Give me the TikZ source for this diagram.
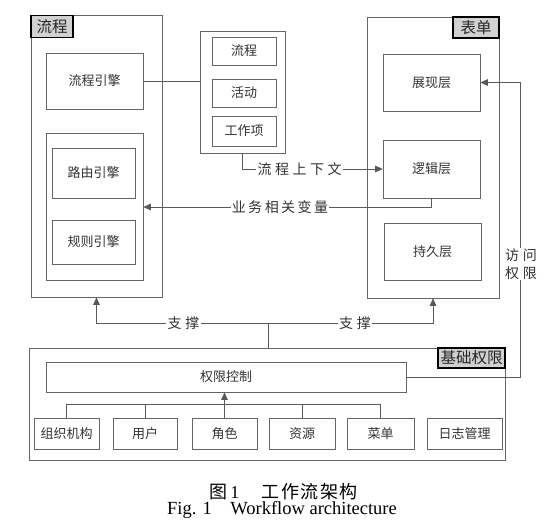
\documentclass[tikz,border=0pt]{standalone}
\usepackage{fontspec}
\setmainfont{Liberation Serif}
\newfontfamily\cjk{Noto Sans CJK SC}
\usetikzlibrary{arrows.meta}
\newcommand\gp[1]{\kern#1pt}
\begin{document}
\begin{tikzpicture}[x=1pt,y=-1pt,
  line col/.style={draw=black!60},
  box/.style={line col,line width=0.6pt,inner sep=0pt,rectangle,text=black!80,font=\cjk\fontsize{13}{15}\selectfont},
  lbl/.style={draw=black,line width=1.4pt,fill=black!18,inner sep=0pt,text=black!85,font=\cjk\fontsize{15.5}{17}\selectfont},
  conn/.style={black!65,line width=0.6pt},
  arr/.style={conn,-{Triangle[length=7.5pt,width=6.5pt]}},
  ltxt/.style={inner sep=1pt,text=black!80,font=\cjk\fontsize{14}{16}\selectfont},
]
\useasboundingbox (0,0) rectangle (554,531);
% flow
\node[box,minimum width=131pt,minimum height=282pt] (flowOuter) at (96.5,156) {};
\node[lbl,minimum width=42pt,minimum height=22pt] (flowLabel) at (52,26.5) {流程};
\node[box,minimum width=97pt,minimum height=56pt] (engine) at (94.5,81) {流程引擎};
\node[box,minimum width=97pt,minimum height=147pt] (inner) at (94.5,206.5) {};
\node[box,minimum width=83pt,minimum height=50pt] (route) at (93.5,173) {路由引擎};
\node[box,minimum width=83pt,minimum height=44pt] (rule) at (93.5,242) {规则引擎};
% middle
\node[box,minimum width=85pt,minimum height=122pt] (mid) at (242.5,92) {};
\node[box,minimum width=64pt,minimum height=28pt] (mflow) at (244,51) {流程};
\node[box,minimum width=64pt,minimum height=28pt] (mact) at (244,93) {活动};
\node[box,minimum width=64pt,minimum height=30pt] (mwork) at (244,131) {工作项};
% form
\node[box,minimum width=132pt,minimum height=281pt] (formOuter) at (433,157.5) {};
\node[lbl,minimum width=46pt,minimum height=21pt] (formLabel) at (476,27.5) {表单};
\node[box,minimum width=97pt,minimum height=57pt] (present) at (431.5,82.5) {展现层};
\node[box,minimum width=97pt,minimum height=58pt] (logic) at (431.5,169) {逻辑层};
\node[box,minimum width=97pt,minimum height=57pt] (persist) at (432.5,251.5) {持久层};
% base
\node[box,minimum width=476pt,minimum height=112pt] (base) at (267,404) {};
\node[lbl,minimum width=67pt,minimum height=20pt] (baseLabel) at (471.5,358) {基础权限};
\node[box,minimum width=360pt,minimum height=30pt] (perm) at (226,377) {权限控制};
\node[box,minimum width=65pt,minimum height=31pt] (org) at (66.5,433.5) {组织机构};
\node[box,minimum width=64pt,minimum height=31pt] (user) at (145,433.5) {用户};
\node[box,minimum width=65pt,minimum height=31pt] (role) at (224.5,433.5) {角色};
\node[box,minimum width=66pt,minimum height=31pt] (res) at (302,433.5) {资源};
\node[box,minimum width=67pt,minimum height=31pt] (menu) at (380.5,433.5) {菜单};
\node[box,minimum width=75pt,minimum height=31pt] (log) at (464.5,433.5) {日志管理};
% text labels
\node[ltxt] (ctx) at (299.5,169) {流\gp{3.5}程\gp{3.5}上\gp{3.5}下\gp{3.5}文};
\node[ltxt] (var) at (280,207) {业\gp{2.5}务\gp{2.5}相\gp{2.5}关\gp{2.5}变\gp{2.5}量};
\node[ltxt] (sup1) at (183.5,323) {支\gp{4}撑};
\node[ltxt] (sup2) at (355,323) {支\gp{4}撑};
\coordinate (hub) at (268,323);
\coordinate (acc) at (520,377);
% connectors
\draw[conn] (engine.east) -- (engine.east -| mid.west);
\draw[conn] (mid.south) |- (ctx.west);
\draw[arr] (ctx.east) -- (ctx.east -| logic.west);
\draw[conn] (logic.south) |- (var.east);
\draw[arr] (var.west) -- (var.west -| inner.east);
\draw[arr] (sup1.west) -| (flowOuter.south);
\draw[conn] (sup1.east) -- (sup2.west);
\draw[arr] (sup2.east) -| (formOuter.south);
\draw[conn] (hub) -- (hub |- base.north);
\draw[arr] (perm.east) -- (acc) |- (present.east);
\node[ltxt,fill=white,align=center,font=\cjk\fontsize{14}{18}\selectfont] (acctxt) at (521,264) {访\gp{4}问\\权\gp{4}限};
\coordinate (bus) at (0,404);
\draw[conn] (org.north) |- (bus -| menu.north) -- (menu.north);
\draw[conn] (user.north) -- (user.north |- bus);
\draw[conn] (res.north) -- (res.north |- bus);
\draw[arr] (role.north) -- (role.north |- perm.south);
% caption
\node[inner sep=0pt,font=\fontsize{18}{20}\selectfont] (cap1) at (283.5,492) {{\cjk 图}\,1\quad\ {\cjk 工\gp{1.5}作\gp{1.5}流\gp{1.5}架\gp{1.5}构}};
\node[inner sep=0pt,font=\fontsize{18.5}{20}\selectfont] (cap2) at (282,510) {Fig. 1\quad Workflow architecture};
\end{tikzpicture}
\end{document}
